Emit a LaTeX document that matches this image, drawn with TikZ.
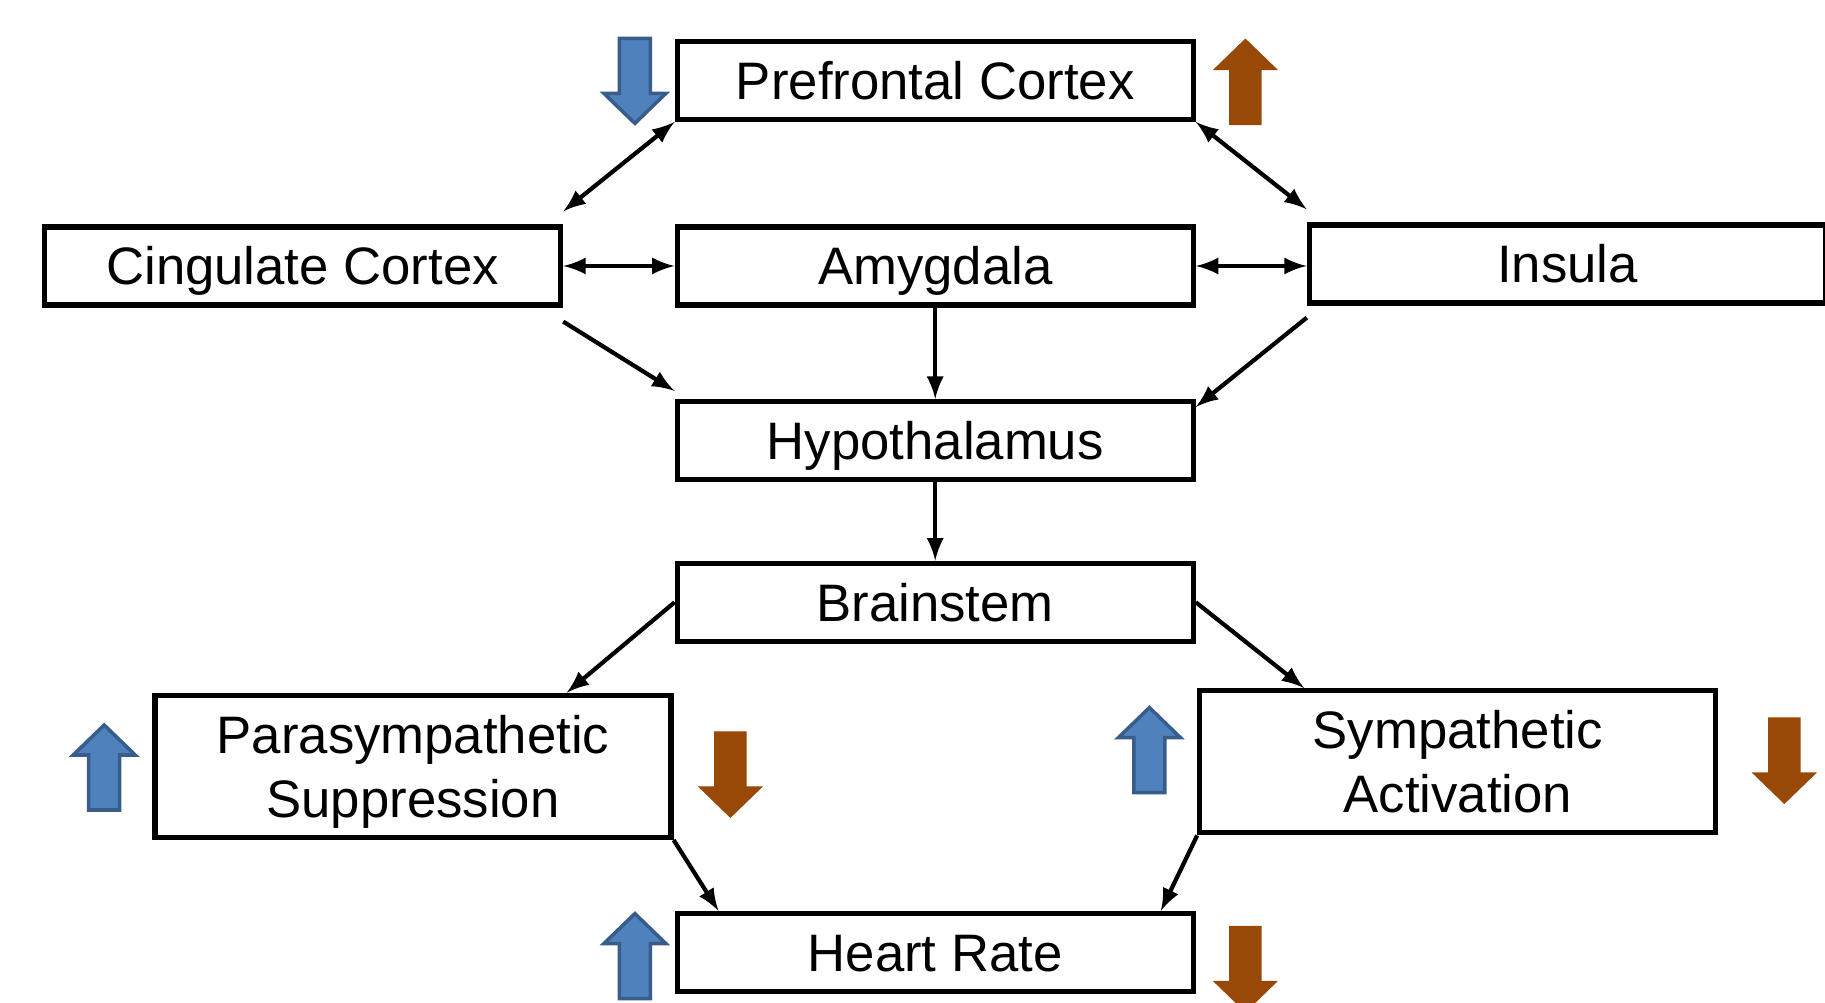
\documentclass[tikz,border=0pt]{standalone}
\usepackage{fontspec}
\setmainfont{Liberation Sans}
\usetikzlibrary{arrows,calc}

\definecolor{dropblue}{RGB}{79,129,189}
\definecolor{dropblueline}{RGB}{56,93,138}
\definecolor{riserust}{RGB}{152,72,7}

\tikzset{
  region/.style={draw=black, line width=1.5pt, fill=white, minimum width=5.16cm,
    minimum height=0.78cm, inner sep=0pt, align=center,
    text height=10.8pt, text depth=0pt,
    font=\fontsize{15}{18.2}\selectfont},
  tallregion/.style={region, minimum height=1.42cm, text height=29pt},
  link/.style={line width=1.2pt, >=latex},
  bluearrow/.style={fill=dropblue, draw=dropblueline, line width=1pt},
  rustarrow/.style={fill=riserust, draw=riserust, line width=0.4pt},
  pics/blockup/.style={code={
    \draw[#1] (-0.155,0) -- (0.155,0) -- (0.155,0.55) -- (0.31,0.55) -- (0,0.85)
      -- (-0.31,0.55) -- (-0.155,0.55) -- cycle;}}
}

\begin{document}
\begin{tikzpicture}

\useasboundingbox (0,0) rectangle (18.25,10.02);
\clip (0,0) rectangle (18.25,10.02); % page edge cuts Insula and the last arrow

\coordinate (PfcPos)   at (9.352,9.217);
\coordinate (CingPos)  at (3.026,7.36);
\coordinate (AmygPos)  at (9.352,7.36);
\coordinate (InsPos)   at (15.674,7.38);
\coordinate (HypoPos)  at (9.352,5.614);
\coordinate (StemPos)  at (9.352,3.997);
\coordinate (ParaPos)  at (4.13,2.356);
\coordinate (SympPos)  at (14.578,2.402);
\coordinate (HeartPos) at (9.352,0.494);

\node[region] (Prefrontal) at (PfcPos) {Prefrontal Cortex};
\node[region] (Cingulate) at (CingPos) {Cingulate Cortex};
\node[region] (Amygdala) at (AmygPos) {Amygdala};
\node[region] (Insula) at (InsPos) {Insula};
\node[region] (Hypothalamus) at (HypoPos) {Hypothalamus};
\node[region] (Brainstem) at (StemPos) {Brainstem};
\node[tallregion] (Para) at (ParaPos) {Parasympathetic\\Suppression};
\node[tallregion] (Symp) at (SympPos) {Sympathetic\\Activation};
\node[region] (Heart) at (HeartPos) {Heart Rate};

% two-way links in the top layer
\draw[link,<->] (Prefrontal.south west) -- ($(Cingulate.north east)+(0,0.13)$);
\draw[link,<->] (Prefrontal.south east) -- ($(Insula.north west)+(0,0.13)$);
\draw[link,<->] (Cingulate.east) -- (Amygdala.west);
\draw[link,<->] (Amygdala.east) -- (Amygdala.east -| Insula.west);

% down to the hypothalamus
\draw[link,->] ($(Cingulate.south east)+(0,-0.14)$) -- ($(Hypothalamus.north west)+(0,0.08)$);
\draw[link,->] (Amygdala.south) -- (Hypothalamus.north);
\draw[link,->] ($(Insula.south west)+(0,-0.12)$) -- ($(Hypothalamus.north east)+(0,-0.08)$);
\draw[link,->] (Hypothalamus.south) -- (Brainstem.north);

% autonomic branches
\draw[link,->] (Brainstem.west) -- ($(Para.north east)+(-1.07,0)$);
\draw[link,->] (Brainstem.east) -- ($(Symp.north west)+(1.07,0)$);
\draw[link,->] (Para.south east) -- ($(Heart.north west)+(0.44,0)$);
\draw[link,->] (Symp.south west) -- ($(Heart.north east)+(-0.35,0)$);

% block arrows: blue on one side, rust on the other
\pic[rotate=180] at (6.349,9.636) {blockup=bluearrow};
\pic at (12.454,8.775) {blockup=rustarrow};
\pic at (1.042,1.92) {blockup=bluearrow};
\pic[rotate=180] at (7.304,2.70) {blockup=rustarrow};
\pic at (11.494,2.094) {blockup=bluearrow};
\pic[rotate=180] at (17.843,2.839) {blockup=rustarrow};
\pic at (6.349,0.034) {blockup=bluearrow};
\pic[rotate=180] at (12.454,0.755) {blockup=rustarrow};

\end{tikzpicture}
\end{document}
